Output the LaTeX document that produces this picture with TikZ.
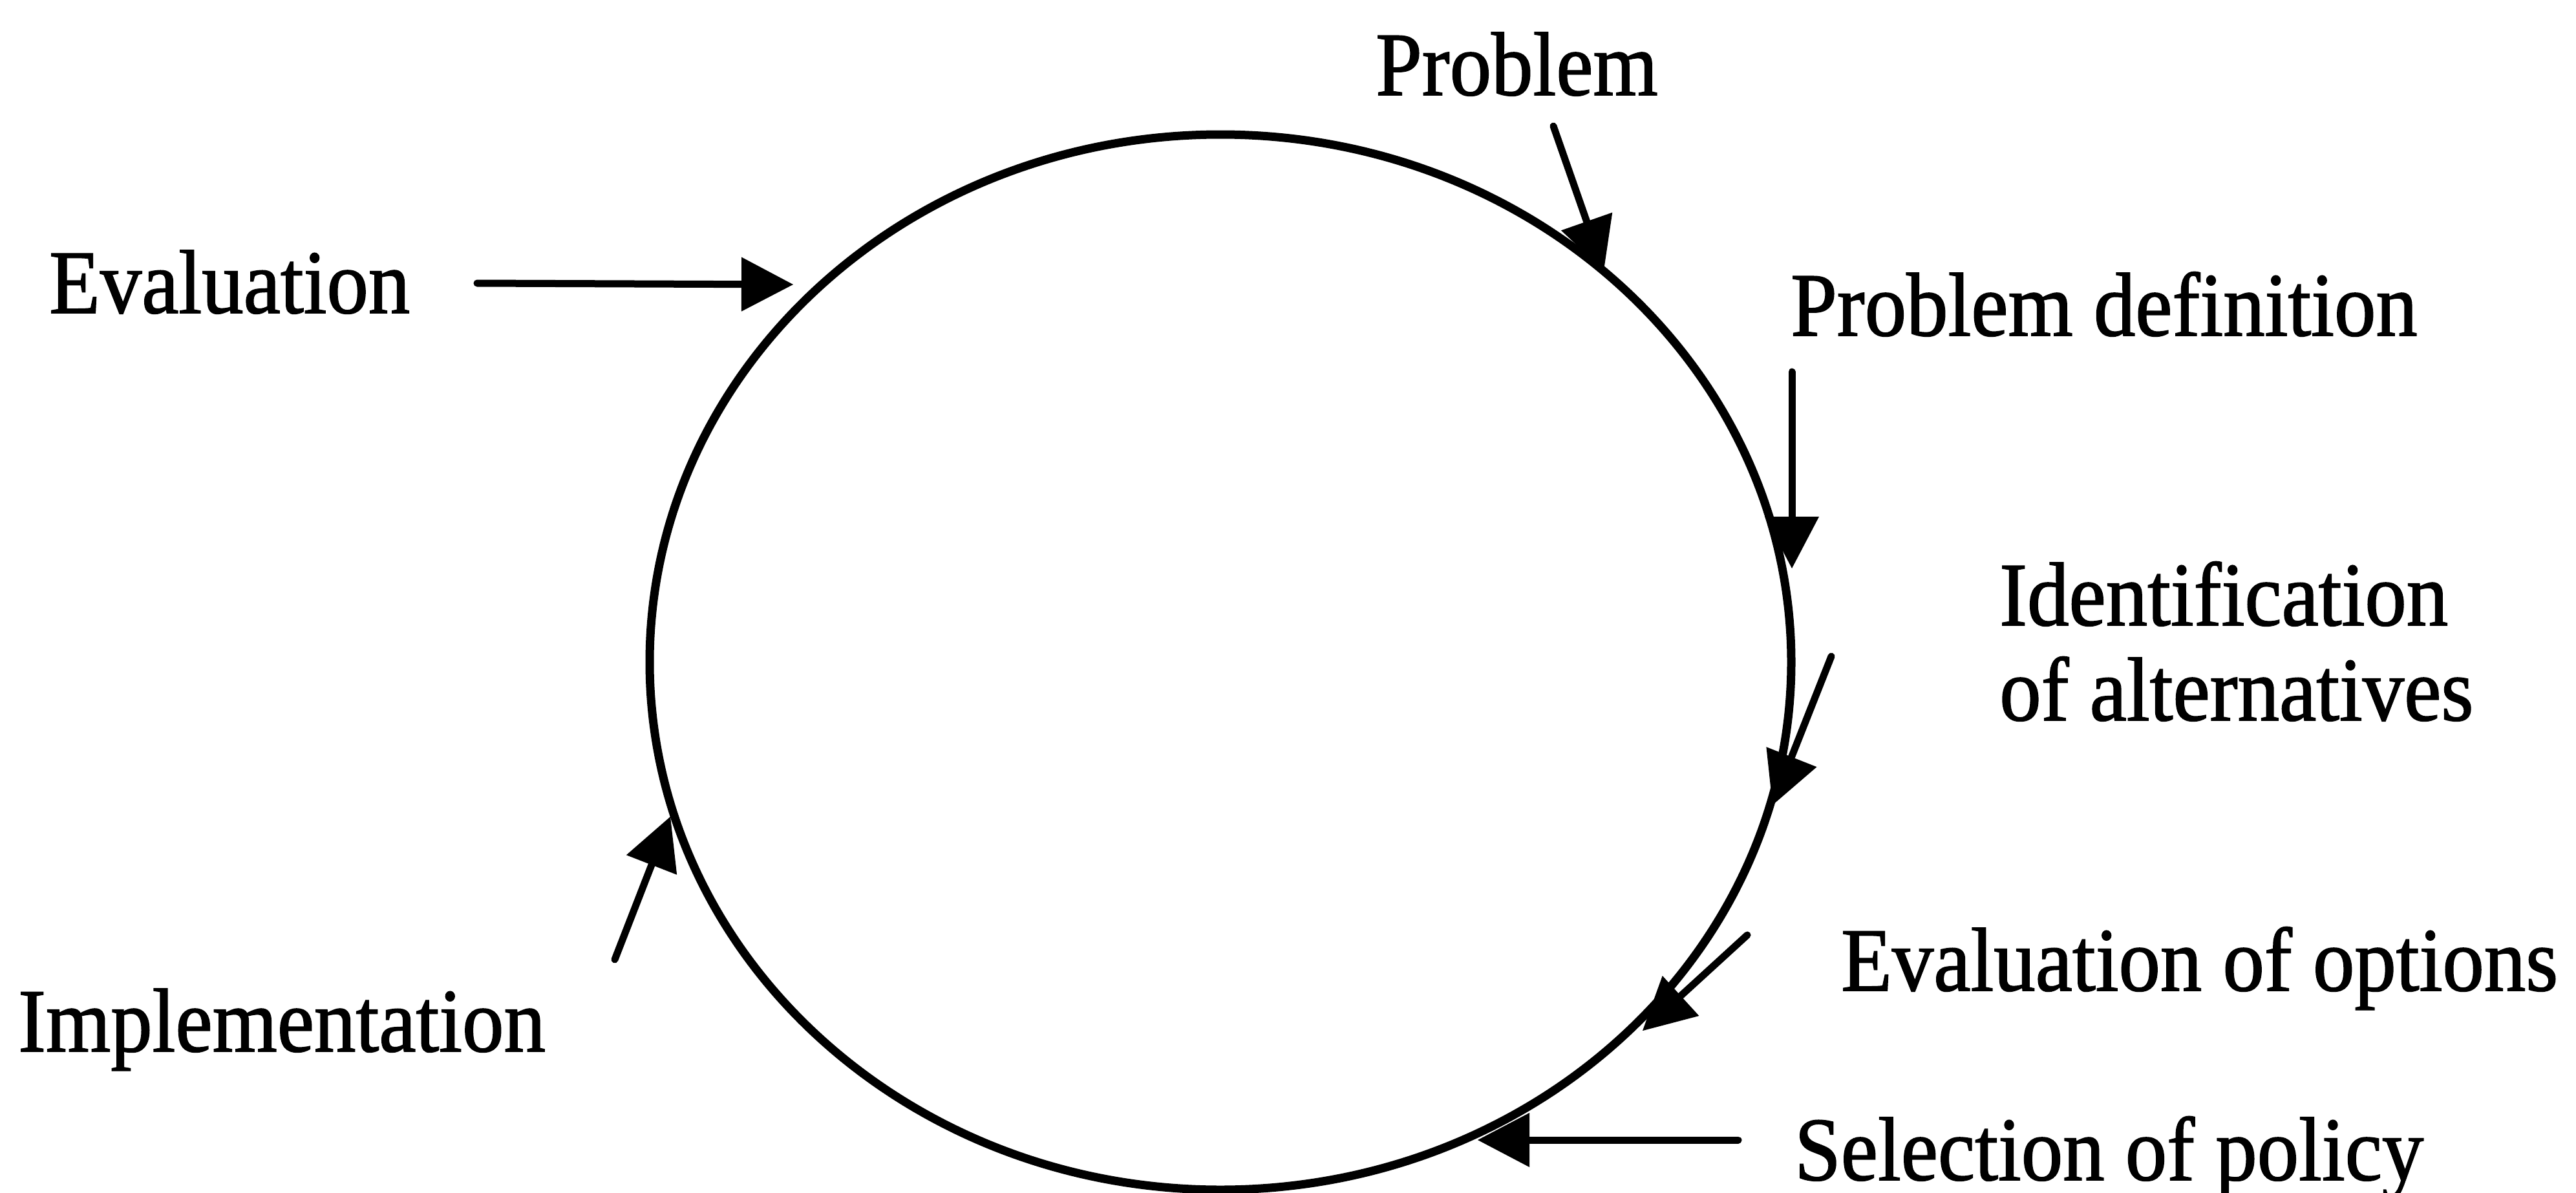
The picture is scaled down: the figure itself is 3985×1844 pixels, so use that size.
\documentclass[tikz,border=0pt]{standalone}
\usepackage{fontspec}
\setmainfont[FakeStretch=0.92,FakeBold=1.2]{Liberation Serif}
\usetikzlibrary{arrows.meta,shapes.geometric}

\begin{document}
\begin{tikzpicture}[x=1pt,y=-1pt,
  lbl/.style={anchor=base west, inner sep=0pt, font=\fontsize{140}{143}\selectfont},
  stage/.style={ellipse, draw, line width=13pt, inner sep=0pt,
                minimum width=1766pt, minimum height=1632pt},
  feed/.style={line width=11pt, line cap=round,
               -{Triangle[length=80pt,width=84pt,line width=0pt]}}]
\useasboundingbox (0,0) rectangle (3985,1844);

% the policy cycle
\node[stage] (policycycle) at (1888,1024) {};

% stage labels
\node[lbl] (problem)   at (2128,147)  {Problem};
\node[lbl] (evaluation) at (76,484)   {Evaluation};
\node[lbl] (probdef)   at (2770,519)  {Problem definition};
\node[lbl] (identA)    at (3093,967)  {Identification};
\node[lbl] (identB)    at (3093,1114) {of alternatives};
\node[lbl] (evalopt)   at (2848,1532) {Evaluation of options};
\node[lbl] (implement) at (28,1626)   {Implementation};
\node[lbl] (selection) at (2776,1825) {Selection of policy};

% arrow tails beside the labels, heads on the cycle
\coordinate (problemT)   at (2403,195);
\coordinate (problemH)   at (2481,418);
\coordinate (evaluationT) at (738,438);
\coordinate (evaluationH) at (1227,440);
\coordinate (probdefT)   at (2772,575);
\coordinate (probdefH)   at (2772,879);
\coordinate (identT)     at (2833,1015);
\coordinate (identH)     at (2742,1245);
\coordinate (evaloptT)   at (2703,1446);
\coordinate (evaloptH)   at (2541,1594);
\coordinate (selectionT) at (2689,1763);
\coordinate (selectionH) at (2286,1763);
\coordinate (implementT) at (951,1484);
\coordinate (implementH) at (1037,1263);

\draw[feed] (problemT) -- (problemH);
\draw[feed] (evaluationT) -- (evaluationH);
\draw[feed] (probdefT) -- (probdefH);
\draw[feed] (identT) -- (identH);
\draw[feed] (evaloptT) -- (evaloptH);
\draw[feed] (selectionT) -- (selectionH);
\draw[feed] (implementT) -- (implementH);
\end{tikzpicture}
\end{document}
